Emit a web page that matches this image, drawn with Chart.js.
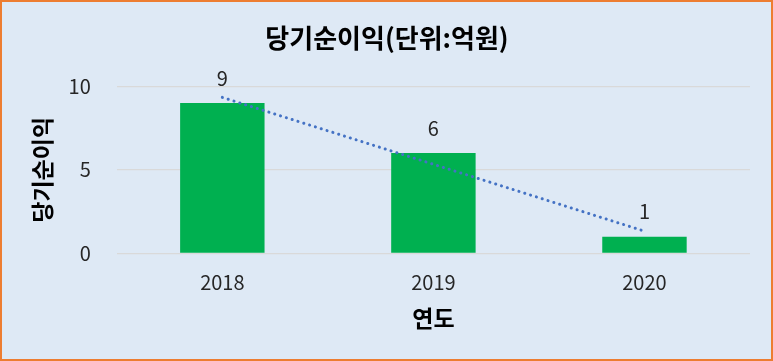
<!DOCTYPE html>
<html>
<head>
<meta charset="utf-8">
<script src="https://cdn.jsdelivr.net/npm/chart.js@4"></script>
<style>
  body { margin: 0; }
  #box {
    width: 773px; height: 361px; box-sizing: border-box;
    border: 2px solid #ed7d31; background: #dee9f5;
  }
</style>
</head>
<body>
<div id="box"><canvas id="chart" width="769" height="357"></canvas></div>
<script>
const years = ["2018", "2019", "2020"];
const netIncome = [9, 6, 1];
const trendValues = [9.33, 5.33, 1.33];

const FONT = "'Noto Sans CJK KR', 'Noto Sans', sans-serif";

// 막대 위에 값 표시
const barLabels = {
  id: "barLabels",
  afterDatasetsDraw(chart) {
    const ctx = chart.ctx;
    const meta = chart.getDatasetMeta(0);
    ctx.save();
    ctx.font = "20px " + FONT;
    ctx.fillStyle = "#262626";
    ctx.textAlign = "center";
    ctx.textBaseline = "middle";
    meta.data.forEach(function (bar, i) {
      ctx.fillText(String(netIncome[i]), bar.x, bar.y - 25);
    });
    ctx.restore();
  },
};

const ctx = document.getElementById("chart").getContext("2d");
new Chart(ctx, {
  data: {
    labels: years,
    datasets: [
      {
        type: "bar",
        data: netIncome,
        backgroundColor: "#00b050",
        barPercentage: 0.8,
        categoryPercentage: 0.5,
        order: 2,
      },
      {
        type: "line",
        data: trendValues,
        borderColor: "#4472c4",
        borderWidth: 3,
        borderDash: [0.1, 6],
        borderCapStyle: "round",
        pointRadius: 0,
        fill: false,
        order: 1,
      },
    ],
  },
  options: {
    responsive: false,
    animation: false,
    layout: { padding: { left: 22, right: 21, top: 6, bottom: 23 } },
    plugins: {
      legend: { display: false },
      tooltip: { enabled: false },
      title: {
        display: true,
        text: "당기순이익(단위:억원)",
        color: "#000",
        font: { family: FONT, size: 26, weight: "bold" },
        padding: { top: 15, bottom: 32 },
      },
    },
    scales: {
      x: {
        grid: { display: false, drawTicks: false },
        border: { display: false },
        ticks: { color: "#262626", font: { family: FONT, size: 20 }, padding: 17 },
        title: {
          display: true,
          text: "연도",
          color: "#000",
          font: { family: FONT, size: 23, weight: "bold" },
          padding: { top: -7, bottom: 4 },
        },
      },
      y: {
        min: 0,
        max: 10,
        ticks: { stepSize: 5, color: "#262626", font: { family: FONT, size: 20 }, padding: 26 },
        grid: { color: "#d9d9d9", lineWidth: 1.3, drawTicks: false },
        border: { display: false },
        title: {
          display: true,
          text: "당기순이익",
          color: "#000",
          font: { family: FONT, size: 23, weight: "bold" },
          padding: { top: 4, bottom: -13 },
        },
      },
    },
  },
  plugins: [barLabels],
});
</script>
</body>
</html>
